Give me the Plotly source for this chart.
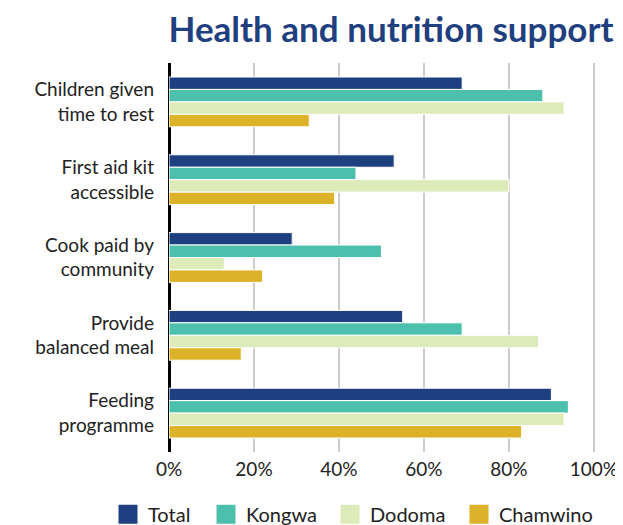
import plotly.graph_objects as go

categories = ["Children given<br>time to rest", "First aid kit<br>accessible",
              "Cook paid by<br>community", "Provide<br>balanced meal",
              "Feeding<br>programme"]
total = [69, 53, 29, 55, 90]
kongwa = [88, 44, 50, 69, 94]
dodoma = [93, 80, 13, 87, 93]
chamwino = [33, 39, 22, 17, 83]
series_names = ["Total", "Kongwa", "Dodoma", "Chamwino"]
colors = ["#1F4080", "#4CC0AD", "#DDEBBB", "#DCB228"]
x_ticks = [0, 20, 40, 60, 80, 100]

# page body adds an 8px offset; figure is sized so the picture fills the window
W, H = 615, 517
PL, PR, PT, PB = 161, 27, 55, 73
pw = W - PL - PR

fig = go.Figure()
for name, vals, col in zip(series_names, [total, kongwa, dodoma, chamwino], colors):
    fig.add_trace(go.Bar(
        y=categories, x=vals, name=name, orientation="h",
        marker=dict(color=col, line=dict(color="white", width=1)),
        showlegend=False, hoverinfo="x+name",
    ))

legend_px = [100, 198, 322, 451]
legend_ids = ["legend", "legend2", "legend3", "legend4"]
legend_layout = {}
for name, col, lid, lx in zip(series_names, colors, legend_ids, legend_px):
    fig.add_trace(go.Scatter(
        x=[None], y=[None], mode="markers", name=name,
        marker=dict(symbol="square", size=16, color=col,
                    line=dict(color=col, width=3)),
        showlegend=True, legend=lid,
    ))
    legend_layout[lid] = dict(
        orientation="h", xref="paper", yref="paper",
        x=(lx - PL) / pw, xanchor="left", y=-0.11, yanchor="top",
        font=dict(size=20, color="#222222"), itemsizing="trace",
        bgcolor="rgba(0,0,0,0)",
    )

fig.update_layout(
    width=W, height=H,
    margin=dict(l=PL, r=PR, t=PT, b=PB, autoexpand=False),
    paper_bgcolor="white", plot_bgcolor="white",
    barmode="group", bargap=0.36, bargroupgap=0,
    font=dict(family="Lato", color="#222222"),
    title=dict(text="<b>Health and nutrition support</b>",
               font=dict(family="Lato", size=35, color="#1F3F7F"),
               x=383/W, xanchor="center", xref="container",
               y=1-22/H, yanchor="middle", yref="container"),
    showlegend=True,
    **legend_layout,
)
fig.update_xaxes(
    range=[0, 100.5], tickvals=x_ticks, ticktext=[f"{v}%" for v in x_ticks],
    showgrid=True, gridcolor="#CCCCCC", gridwidth=2,
    zeroline=True, zerolinecolor="#000000", zerolinewidth=2.5,
    tickfont=dict(size=19, color="#222222"), ticks="", ticklabelstandoff=4,
    fixedrange=True, automargin=False,
)
fig.update_yaxes(
    autorange="reversed", categoryorder="array", categoryarray=categories,
    showgrid=False, zeroline=False, showline=False,
    tickfont=dict(size=19, color="#222222"), ticks="", ticklabelstandoff=14,
    fixedrange=True, automargin=False,
)

fig.write_html("out.html")
